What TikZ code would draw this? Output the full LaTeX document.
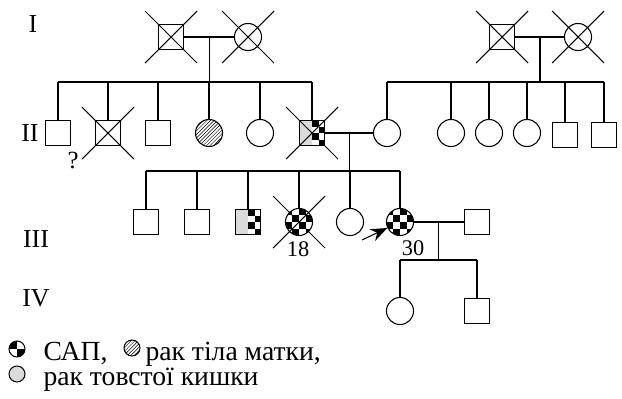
\documentclass[tikz,border=0pt]{standalone}
\usepackage{fontspec}
\setmainfont{Liberation Serif}
\usetikzlibrary{calc,patterns,arrows.meta}

\definecolor{crcgrey}{gray}{0.86}

% checkerboard of #2 x #3 cells of size #4, from corner #1
\newcommand\checker[4]{%
  \foreach \i in {1,...,#2}{\foreach \j in {1,...,#3}{%
    \pgfmathtruncatemacro\odd{mod(\i+\j,2)}%
    \ifnum\odd=0 \fill #1 ++({(\i-1)*#4},{(\j-1)*#4}) rectangle ++(#4,#4);\fi}}}

\tikzset{
  person/.style={draw, inner sep=0pt},
  male/.style={person, rectangle, minimum size=22pt},
  female/.style={person, circle, minimum size=23pt},
  hatched/.style={pattern=north east lines},
  sap/.style={path picture={\checker{(path picture bounding box.north west)}{4}{4}{6.75}}},
  sapcrc/.style={path picture={
      \fill[crcgrey] (path picture bounding box.north west) rectangle (path picture bounding box.south);
      \checker{(path picture bounding box.north)}{2}{4}{6.5}}},
  gen/.style={font=\fontsize{22}{26}\selectfont},
  age/.style={font=\fontsize{19}{22}\selectfont},
  legend/.style={font=\fontsize{23.5}{28}\selectfont, anchor=base west, inner sep=0pt}
}

\begin{document}
\begin{tikzpicture}[x=0.85pt, y=-0.85pt, line width=0.9pt]
  \useasboundingbox (0,0) rectangle (622,398);

  % generation labels
  \node[gen] (g1) at (33,24) {I};
  \node[gen] (g2) at (30,133) {II};
  \node[gen] (g3) at (36,239) {III};
  \node[gen] (g4) at (36,298) {IV};

  % generation I
  \node[male] (I1) at (171,37) {};
  \node[female] (I2) at (248,37) {};
  \node[male] (I3) at (502,37) {};
  \node[female] (I4) at (578,37) {};

  % generation II
  \node[male] (II1) at (58,133) {};
  \node[male] (II2) at (108,133) {};
  \node[male] (II3) at (158,133) {};
  \node[female, hatched] (II4) at (209,133) {};
  \node[female] (II5) at (260,133) {};
  \node[male, sapcrc] (II6) at (312,133) {};
  \node[female] (II7) at (387,133) {};
  \foreach \n/\x in {8/451, 9/489, 10/527}
    \node[female] (II\n) at (\x,133) {};
  \node[male] (II11) at (565,135) {};
  \node[male] (II12) at (604,135) {};

  % generation III
  \node[male] (III1) at (146,222) {};
  \node[male] (III2) at (197,222) {};
  \node[male, sapcrc] (III3) at (248,222) {};
  \node[female, sap] (III4) at (299,222) {};
  \node[female] (III5) at (350,222) {};
  \node[female, sap] (III6) at (400,222) {};
  \node[male] (III7) at (477,222) {};

  % generation IV
  \node[female] (IV1) at (400,311) {};
  \node[male] (IV2) at (477,311) {};

  % deceased
  \foreach \n in {I1, I2, I3, I4, II2, II6, III4}
    \draw ([shift={(-26,-26)}]\n.center) -- ([shift={(26,26)}]\n.center)
          ([shift={(-26,26)}]\n.center) -- ([shift={(26,-26)}]\n.center);

  % families
  \foreach \a/\b/\f/\d in {I1/I2/f1/45, I3/I4/f2/45, II6/II7/f3/38, III6/III7/f4/38} {
    \draw (\a) -- (\b);
    \coordinate (\f) at ($(\a)!.5!(\b)$);
    \coordinate (s\f) at ($(\f)+(0,\d)$);
    \draw (\f) -- (s\f);
  }
  \draw (II1 |- sf1) -- (II6 |- sf1);
  \foreach \c in {II1, II2, II3, II4, II5, II6} \draw (\c) -- (\c |- sf1);
  \draw (II7 |- sf2) -- (II12 |- sf2);
  \foreach \c in {II7, II8, II9, II10, II11, II12} \draw (\c) -- (\c |- sf2);
  \draw (III1 |- sf3) -- (III6 |- sf3);
  \foreach \c in {III1, III2, III3, III4, III5, III6} \draw (\c) -- (\c |- sf3);
  \draw (IV1 |- sf4) -- (IV2 |- sf4);
  \foreach \c in {IV1, IV2} \draw (\c) -- (\c |- sf4);

  % proband
  \coordinate (pb) at (362,240);
  \draw[-{Stealth[length=14pt, width=11pt]}] (pb) -- (III6);

  \node[font=\fontsize{21}{24}\selectfont] (q) at (73,160) {?};
  \node[age] (a18) at (298,249) {18};
  \node[age] (a30) at (413,248) {30};

  % legend
  \node[female, minimum size=13.6pt,
        path picture={\checker{(path picture bounding box.north west)}{2}{2}{8}}] (k1) at (17,349) {};
  \node[legend] (t1) at (43,360) {САП,};
  \node[female, hatched, minimum size=13.6pt] (k2) at (132,348) {};
  \node[legend] (t2) at (145,360) {рак тіла матки,};
  \node[female, fill=crcgrey, minimum size=13.6pt] (k3) at (17,374) {};
  \node[legend] (t3) at (43,385) {рак товстої кишки};
\end{tikzpicture}
\end{document}
